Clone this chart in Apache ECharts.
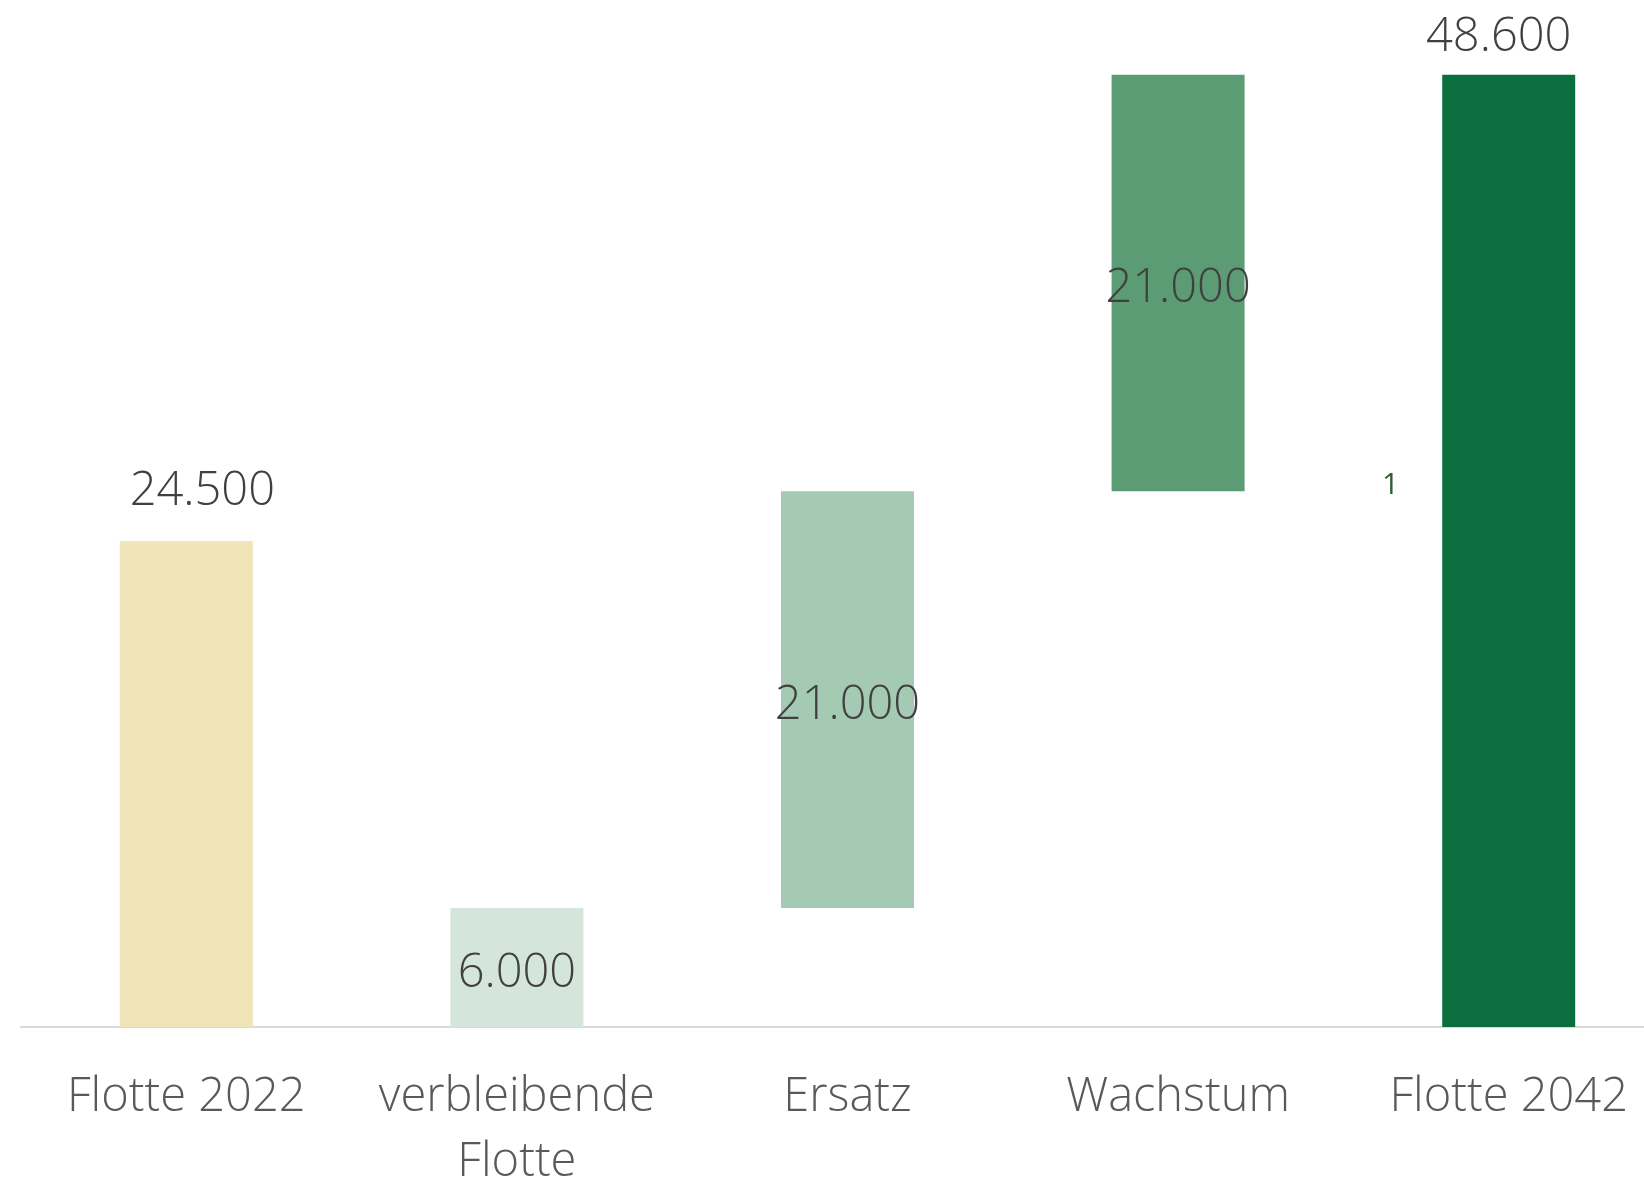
<!DOCTYPE html>
<html>
<head>
<meta charset="utf-8">
<script src="https://cdn.jsdelivr.net/npm/echarts@6/dist/echarts.min.js"></script>
<style>
  html, body { margin: 0; padding: 0; background: #fff; }
  #chart { width: 1644px; height: 1177px; }
</style>
</head>
<body>
<div id="chart"></div>
<script>
// waterfall data
var categories = ["Flotte 2022", "verbleibende\nFlotte", "Ersatz", "Wachstum", "Flotte 2042"];
var barKinds = ["total", "delta", "delta", "delta", "total"];
var barBase = [0, 0, 6000, 27000, 0];
var barValues = [24500, 6000, 21000, 21000, 48000];
var valueLabels = ["24.500", "6.000", "21.000", "21.000", "48.600"];
var strayLabel = "1";

var barColors = ["#F0E4B9", "#D4E6DB", "#A5CAB4", "#5C9C74", "#0A6E3E"];
// labels in the original were nudged by hand
var labelShift = [[16, 0], [0, 6], [0, 6], [0, 6], [-10, 12]];
var FONT = "'Open Sans', sans-serif";

var chart = echarts.init(document.getElementById("chart"));

var valueData = barValues.map(function (v, i) {
  return {
    value: v,
    itemStyle: { color: barColors[i] },
    label: {
      show: true,
      position: barKinds[i] === "total" ? "top" : "inside",
      distance: 26,
      offset: labelShift[i],
      formatter: function () { return valueLabels[i]; },
      color: "#404040",
      fontFamily: FONT,
      fontWeight: 300,
      fontSize: 47
    }
  };
});

chart.setOption({
  animation: false,
  grid: { left: 21, right: -30, top: 35, bottom: 150, outerBoundsMode: "none", containLabel: false },
  xAxis: {
    type: "category",
    data: categories,
    axisLine: { lineStyle: { color: "#D9D9D9", width: 2 } },
    axisTick: { show: false },
    axisLabel: {
      color: "#595959",
      fontFamily: FONT,
      fontWeight: 300,
      fontSize: 47,
      lineHeight: 65,
      margin: 38,
      interval: 0
    }
  },
  yAxis: {
    type: "value",
    min: 0,
    max: 50000,
    show: false,
    splitLine: { show: false }
  },
  series: [
    {
      type: "bar",
      stack: "wf",
      data: barBase,
      barWidth: 133,
      itemStyle: { color: "transparent" },
      silent: true
    },
    {
      type: "bar",
      stack: "wf",
      data: valueData,
      barWidth: 133
    }
  ],
  graphic: [
    {
      type: "text",
      left: 1382,
      top: 470,
      style: {
        text: strayLabel,
        fill: "#2B5E35",
        font: "30px " + FONT
      }
    }
  ]
});
</script>
</body>
</html>
